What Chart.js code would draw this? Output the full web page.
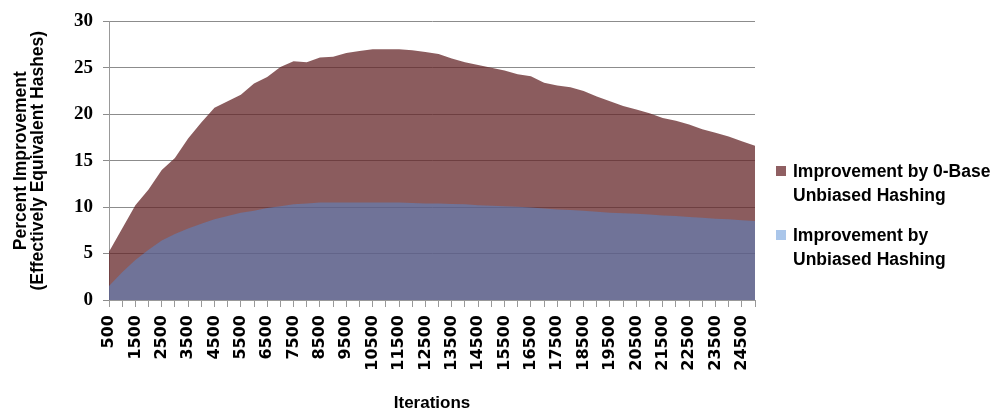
<!DOCTYPE html>
<html>
<head>
<meta charset="utf-8">
<script src="https://cdn.jsdelivr.net/npm/chart.js@4/dist/chart.umd.min.js"></script>
<style>
  body { margin: 0; background: #fff; }
  #wrap { position: relative; width: 1000px; height: 414px; }
  #legend { position: absolute; left: 776px; top: 159px; font-family: "Liberation Sans", sans-serif; font-weight: bold; font-size: 17.5px; line-height: 24px; color: #000; }
  .item { position: relative; padding-left: 17px; margin-bottom: 16px; }
  .sw { position: absolute; left: 0; top: 7px; width: 10px; height: 10px; }
</style>
</head>
<body>
<div id="wrap">
  <canvas id="chart" width="1000" height="414"></canvas>
  <div id="legend">
    <div class="item"><span class="sw" style="background:#8f5f62"></span>Improvement by 0-Base<br>Unbiased Hashing</div>
    <div class="item"><span class="sw" style="background:#aac6ea"></span>Improvement by<br>Unbiased Hashing</div>
  </div>
</div>
<script>
var iterations = [];
for (var n = 500; n <= 25000; n += 500) iterations.push(String(n));

var zeroBase = [5.2, 7.7, 10.2, 11.9, 14.0, 15.3, 17.4, 19.1, 20.7, 21.4,
  22.1, 23.3, 24.0, 25.1, 25.7, 25.6, 26.1, 26.2, 26.6, 26.8,
  27.0, 27.0, 27.0, 26.9, 26.7, 26.5, 26.0, 25.6, 25.3, 25.0,
  24.7, 24.3, 24.1, 23.4, 23.1, 22.9, 22.5, 21.9, 21.4, 20.9,
  20.5, 20.1, 19.6, 19.3, 18.9, 18.4, 18.0, 17.6, 17.1, 16.6];

var unbiased = [1.5, 3.0, 4.3, 5.4, 6.4, 7.1, 7.7, 8.2, 8.7, 9.05,
  9.4, 9.6, 9.9, 10.1, 10.3, 10.4, 10.5, 10.5, 10.5, 10.5,
  10.5, 10.5, 10.5, 10.45, 10.4, 10.4, 10.35, 10.3, 10.2, 10.15,
  10.1, 10.05, 9.95, 9.85, 9.75, 9.7, 9.6, 9.5, 9.4, 9.35,
  9.3, 9.2, 9.1, 9.05, 8.95, 8.85, 8.75, 8.7, 8.6, 8.5];

var yTicks = [0, 5, 10, 15, 20, 25, 30];

var ctx = document.getElementById('chart').getContext('2d');
var chart = new Chart(ctx, {
  type: 'line',
  data: {
    labels: iterations,
    datasets: [{
      label: 'Improvement by 0-Base Unbiased Hashing',
      data: zeroBase,
      backgroundColor: 'rgba(100,38,40,0.75)',
      borderWidth: 0,
      pointRadius: 0,
      fill: 'origin',
      tension: 0,
      order: 2
    }, {
      label: 'Improvement by Unbiased Hashing',
      data: unbiased,
      backgroundColor: 'rgba(85,137,209,0.5)',
      borderWidth: 0,
      pointRadius: 0,
      fill: 'origin',
      tension: 0,
      order: 1
    }]
  },
  options: {
    responsive: false,
    animation: false,
    layout: { padding: { left: 0, top: 15, right: 245, bottom: 0 } },
    plugins: {
      legend: { display: false },
      tooltip: { enabled: false }
    },
    scales: {
      x: {
        offset: false,
        grid: { drawOnChartArea: false, drawTicks: true, tickLength: 7, color: '#999' },
        border: { color: '#999' },
        ticks: {
          autoSkip: false,
          maxRotation: 90,
          minRotation: 90,
          padding: 8,
          color: '#000',
          font: { family: 'DejaVu Sans', weight: 'bold', size: 16 },
          callback: function (v, i) { return i % 2 === 0 ? iterations[i] : ''; }
        },
        title: {
          display: true,
          text: 'Iterations',
          color: '#000',
          font: { family: 'Liberation Sans', weight: 'bold', size: 17 },
          padding: { top: 0, bottom: 0 }
        },
        afterFit: function (s) { s.height = 114; }
      },
      y: {
        min: 0,
        max: 30,
        afterBuildTicks: function (s) { s.ticks = yTicks.map(function (v) { return { value: v }; }); },
        grid: { color: '#8c8c8c', tickLength: 6 },
        border: { color: '#999' },
        ticks: {
          padding: 10,
          color: '#000',
          font: { family: 'Liberation Serif', weight: 'bold', size: 19 }
        },
        title: {
          display: true,
          text: ['Percent Improvement', '(Effectively Equivalent Hashes)'],
          color: '#000',
          font: { family: 'Liberation Sans', weight: 'bold', size: 17.5, lineHeight: 0.95 },
          padding: { top: 13, bottom: 0 }
        },
        afterFit: function (s) { s.width = 109; }
      }
    }
  }
});
</script>
</body>
</html>
